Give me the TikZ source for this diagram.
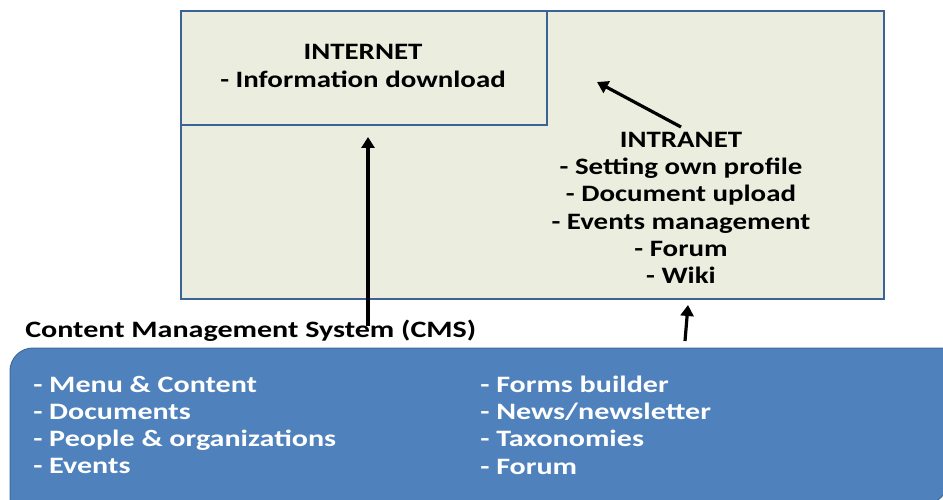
\documentclass[tikz,border=0pt]{standalone}
\usepackage{fontspec}
\setmainfont{Carlito}
\usetikzlibrary{arrows.meta}
\definecolor{boxfill}{HTML}{EBEEDE}
\definecolor{boxline}{HTML}{3D6396}
\definecolor{cmsfill}{HTML}{4F81BD}
\definecolor{cmsline}{HTML}{3F6A9C}
\tikzset{
  txt/.style={font=\bfseries\fontsize{23.5}{27.3}\selectfont, inner sep=0pt, xscale=1.23},
  ctxt/.style={txt, xscale=1.04},
  wtxt/.style={ctxt, text=white, anchor=west, align=left},
  arr/.style={line width=3.2pt, -{Triangle[length=11pt,width=13pt]}},
}
\begin{document}
\begin{tikzpicture}[x=1pt,y=-1pt]
\useasboundingbox (0,0) rectangle (943,500);
\begin{scope}
\clip (0,0) rectangle (943,500);
% big box
\node[draw=boxline, fill=boxfill, line width=2.2pt, minimum width=703pt, minimum height=288pt, anchor=north west, inner sep=0pt] (big) at (180,10) {};
\node[draw=boxline, fill=boxfill, line width=2.2pt, minimum width=366pt, minimum height=114pt, anchor=north west, inner sep=0pt] (inet) at (180,10) {};
\node[txt, align=center] (inettxt) at (363,66) {INTERNET\\- Information download};
\node[txt, align=center] (intratxt) at (681,208) {INTRANET\\- Setting own profile\\- Document upload\\- Events management\\- Forum\\- Wiki};
% CMS
\node[ctxt, anchor=west] (cmslabel) at (25,331) {Content Management System (CMS)};
\path[draw=cmsline, fill=cmsfill, line width=1pt]
  (950,348) -- (33,348) .. controls (20.3,348) and (10,358.3) .. (10,371)
  -- (10,506) -- (920,506) .. controls (936.6,506) and (950,492.6) .. (950,476) -- cycle;
\end{scope}
\node[wtxt] (left) at (33,425) {- Menu \& Content\\- Documents\\- People \& organizations\\- Events};
\node[wtxt] (right) at (480,425) {- Forms builder\\- News/newsletter\\- Taxonomies\\- Forum};
\coordinate (a1s) at (368,326);
\coordinate (a1e) at (368,137);
\coordinate (a2s) at (685,341);
\coordinate (a2e) at (688,305);
\coordinate (a3s) at (681,127);
\coordinate (a3e) at (597,82);
\draw[arr] (a1s) -- (a1e);
\draw[arr] (a2s) -- (a2e);
\draw[arr] (a3s) -- (a3e);
\end{tikzpicture}
\end{document}
